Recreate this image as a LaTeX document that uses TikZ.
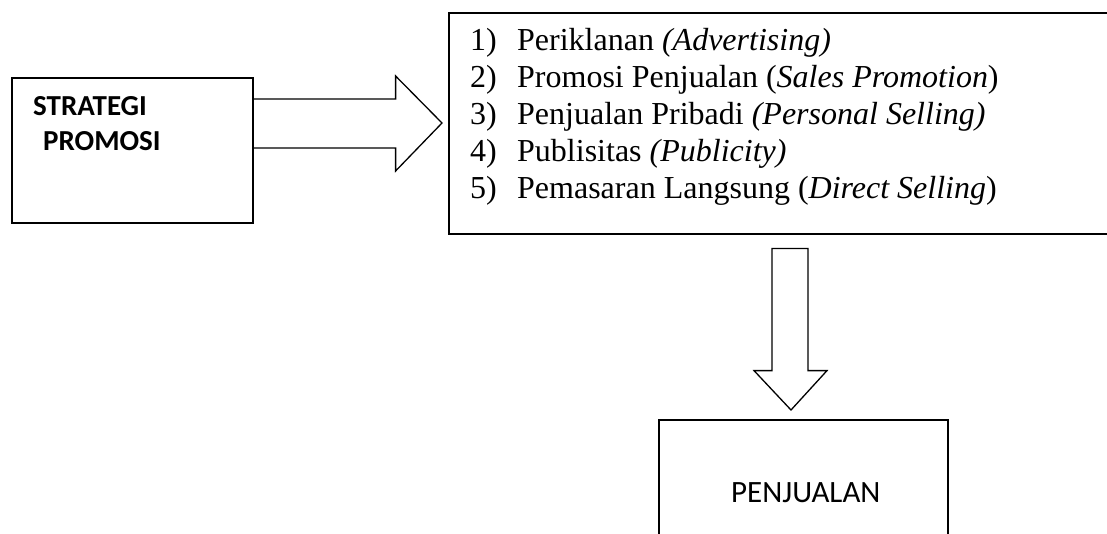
\documentclass[tikz,border=0pt]{standalone}
\usepackage{fontspec}
\setmainfont{Liberation Serif}
\newfontfamily\calibri{Carlito}
\usetikzlibrary{calc}
\tikzset{
  box/.style={draw, line width=1.6pt, minimum width=#1, inner sep=0pt, anchor=north west},
  arrowshape/.style={draw, line width=1.3pt, line join=miter},
  listline/.style={anchor=base west, inner sep=0pt, font=\fontsize{32}{37}\selectfont},
  boldlabel/.style={anchor=base west, inner sep=0pt, font=\calibri\bfseries\fontsize{29}{34}\selectfont},
  plainlabel/.style={anchor=base west, inner sep=0pt, font=\calibri\fontsize{31}{36}\selectfont}
}
\newcommand{\itemnum}[1]{\makebox[47pt][l]{#1}}
\begin{document}
\begin{tikzpicture}[x=1pt, y=-1pt]
\useasboundingbox (0,0) rectangle (1107,534);
\clip (0,0) rectangle (1107,534);
% boxes
\node[box=241pt, minimum height=145pt] (strat) at (11,77) {};
\node[box=700pt, minimum height=221pt] (list) at (448,12) {};
\node[box=289pt, minimum height=150pt] (sales) at (658,419) {};
% labels
\node[boldlabel] (t1) at (33,116) {STRATEGI};
\node[boldlabel] (t2) at (43,151) {PROMOSI};
\node[plainlabel] (t3) at (731,502) {PENJUALAN};
\node[listline] (l1) at (470,51) {\itemnum{1)}Periklanan \textit{(Advertising)}};
\node[listline] (l2) at (470,88) {\itemnum{2)}Promosi Penjualan (\textit{Sales Promotion})};
\node[listline] (l3) at (470,125) {\itemnum{3)}Penjualan Pribadi \textit{(Personal Selling)}};
\node[listline] (l4) at (470,162) {\itemnum{4)}Publisitas \textit{(Publicity)}};
\node[listline] (l5) at (470,199) {\itemnum{5)}Pemasaran Langsung (\textit{Direct Selling})};
% block arrow right
\coordinate (rtip) at ($(list.north west)+(-6,111)$);
\draw[arrowshape] ($(strat.north east)+(0,22)$) -- ($(strat.north east)+(142,22)$)
  -- ($(strat.north east)+(142,-1)$) -- (rtip)
  -- ($(strat.north east)+(142,94)$) -- ($(strat.north east)+(142,71)$)
  -- ($(strat.north east)+(0,71)$);
% block arrow down
\coordinate (dtip) at ($(sales.north west)+(133,-9)$);
\draw[arrowshape] ($(list.south west)+(324,14)$) -- ($(list.south west)+(360,14)$)
  -- ($(list.south west)+(360,136)$) -- ($(list.south west)+(379,136)$)
  -- (dtip) -- ($(list.south west)+(306,136)$) -- ($(list.south west)+(324,136)$) -- cycle;
\end{tikzpicture}
\end{document}
